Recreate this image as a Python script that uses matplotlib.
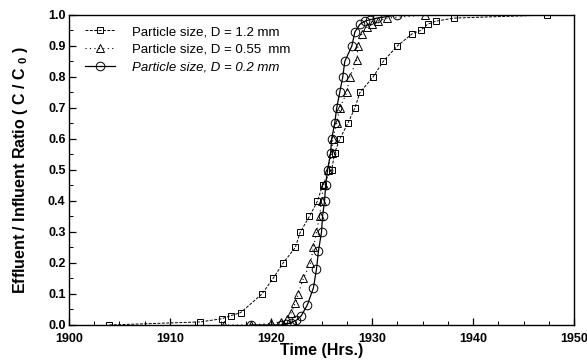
import matplotlib
matplotlib.use("Agg")
import matplotlib.pyplot as plt
from matplotlib.ticker import MultipleLocator

plt.rcParams['font.family'] = ['Liberation Sans', 'DejaVu Sans']
plt.rcParams['mathtext.fontset'] = 'custom'
plt.rcParams['mathtext.bf'] = 'Liberation Sans:bold'
plt.rcParams['mathtext.rm'] = 'Liberation Sans'

# D = 1.2 mm (squares)
t_12 = [1904, 1913, 1915.1, 1916, 1917, 1919.1, 1920.2, 1921.2, 1922.4, 1922.9,
        1923.8, 1924.6, 1925.1, 1926.0, 1926.3, 1926.8, 1927.6, 1928.3, 1928.8,
        1930.1, 1931.1, 1932.5, 1934.0, 1934.8, 1935.5, 1936.3, 1938.1, 1947.3]
c_12 = [0.0, 0.01, 0.02, 0.03, 0.04, 0.10, 0.15, 0.20, 0.25, 0.30,
        0.35, 0.40, 0.45, 0.50, 0.555, 0.60, 0.65, 0.70, 0.75,
        0.80, 0.85, 0.90, 0.94, 0.95, 0.97, 0.98, 0.99, 1.0]

# D = 0.55 mm (triangles)
t_055 = [1915.3, 1918.0, 1920.0, 1921.0, 1921.6, 1922.0, 1922.4, 1922.7, 1923.2,
         1923.9, 1924.2, 1924.5, 1924.8, 1925.0, 1925.2, 1925.6, 1926.0, 1926.1,
         1926.5, 1926.8, 1927.5, 1927.8, 1928.5, 1928.6, 1929.0, 1929.5, 1930.0,
         1930.6, 1931.5, 1935.2]
c_055 = [0.0, 0.0, 0.005, 0.01, 0.02, 0.04, 0.07, 0.10, 0.15,
         0.20, 0.25, 0.30, 0.35, 0.40, 0.45, 0.50, 0.555, 0.60,
         0.65, 0.70, 0.75, 0.80, 0.855, 0.90, 0.94, 0.96, 0.97,
         0.98, 0.99, 1.0]

# D = 0.2 mm (circles)
t_02 = [1918.0, 1921.0, 1921.5, 1922.0, 1922.5, 1923.0, 1923.6, 1924.2, 1924.5,
        1924.7, 1925.0, 1925.1, 1925.3, 1925.4, 1925.6, 1925.9, 1926.0, 1926.3,
        1926.5, 1926.8, 1927.1, 1927.3, 1928.0, 1928.3, 1928.8, 1929.3, 1929.8,
        1930.5, 1932.5]
c_02 = [0.0, 0.0, 0.003, 0.008, 0.015, 0.03, 0.065, 0.12, 0.18,
        0.24, 0.30, 0.35, 0.40, 0.45, 0.50, 0.555, 0.60, 0.65,
        0.70, 0.75, 0.80, 0.85, 0.90, 0.945, 0.97, 0.98, 0.985,
        0.99, 1.0]

fig = plt.figure(figsize=(5.87, 3.63), dpi=100)
ax = fig.add_axes([0.1175, 0.1047, 0.8605, 0.854])

ax.plot(t_12, c_12, color='black', lw=0.7, ls=(0, (3, 1.5)), marker='s',
        ms=5, mfc='none', mec='black', mew=0.7,
        label='Particle size, D = 1.2 mm')
ax.plot(t_055, c_055, color='black', lw=0.8, ls=(0, (1, 3)), marker='^',
        ms=5.5, mfc='none', mec='black', mew=0.7,
        label='Particle size, D = 0.55  mm')
ax.plot(t_02, c_02, color='black', lw=0.9, ls='-', marker='o',
        ms=6.2, mfc='none', mec='black', mew=0.7,
        label='Particle size, D = 0.2 mm')

ax.set_xlim(1900, 1950)
ax.set_ylim(0, 1.0)
ax.xaxis.set_major_locator(MultipleLocator(10))
ax.xaxis.set_minor_locator(MultipleLocator(2.5))
ax.yaxis.set_major_locator(MultipleLocator(0.1))
ax.yaxis.set_minor_locator(MultipleLocator(0.05))
ax.yaxis.set_major_formatter(plt.FormatStrFormatter('%.1f'))
ax.tick_params(which='both', direction='in', top=False, right=False)
ax.tick_params(which='major', length=5, width=0.9, labelsize=9)
ax.tick_params(axis='x', which='major', pad=5.5)
ax.tick_params(axis='y', which='major', pad=2.5)
ax.tick_params(which='minor', length=3, width=0.7)
for lbl in ax.get_xticklabels() + ax.get_yticklabels():
    lbl.set_fontweight('bold')
for sp in ax.spines.values():
    sp.set_linewidth(1.0)

ax.set_xlabel('Time (Hrs.)', fontsize=11.5, fontweight='bold', labelpad=-1)
ax.set_ylabel(r'Effluent / Influent Ratio ( C / C $_{\mathbf{0}}$ )',
              fontsize=11.5, fontweight='bold', labelpad=13)

leg = ax.legend(loc='upper left', bbox_to_anchor=(0.021, 0.982), borderaxespad=0,
                frameon=False, fontsize=9.5, handlelength=2.3,
                labelspacing=0.42, handletextpad=1.3)
leg.get_texts()[2].set_fontstyle('italic')

fig.savefig('out.png', dpi=100)
